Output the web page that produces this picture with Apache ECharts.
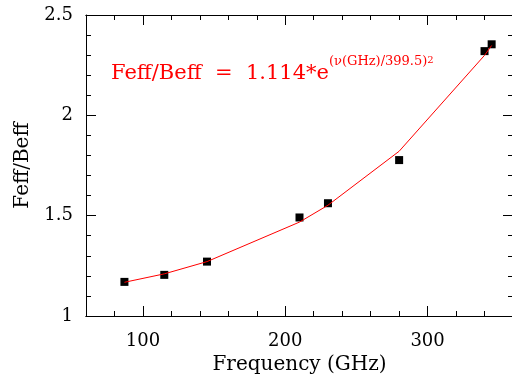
<!DOCTYPE html>
<html>
<head>
<meta charset="utf-8">
<script src="https://cdn.jsdelivr.net/npm/echarts@6/dist/echarts.min.js"></script>
<style>
html,body{margin:0;padding:0;background:#fff;}
#c{width:512px;height:376px;}
</style>
</head>
<body>
<div id="c"></div>
<script>
// Data
const freqGHz = [87, 115, 145, 210, 230, 280, 340, 345];
const measured = [1.17, 1.205, 1.271, 1.491, 1.562, 1.777, 2.32, 2.354];
const fitLine = [1.168, 1.21, 1.271, 1.468, 1.552, 1.821, 2.299, 2.348];
const xTickLabels = [100, 200, 300];
const yTickLabels = [1, 1.5, 2, 2.5];

const FONT = 'DejaVu Serif';
const chart = echarts.init(document.getElementById('c'), null, {renderer: 'canvas'});

const xMin = 60, xMax = 360;
const lineStyle = {color: '#000', width: 1};

function majorX(pos, showLabel) {
  return {
    type: 'value', position: pos, min: xMin, max: xMax, splitNumber: 3,
    axisLine: {show: true, onZero: false, lineStyle},
    axisTick: {show: true, inside: true, length: 10, lineStyle},
    splitLine: {show: false},
    axisLabel: {
      show: showLabel, margin: 16, color: '#000', fontFamily: FONT, fontSize: 18,
      showMinLabel: false, showMaxLabel: false,
      formatter: v => xTickLabels.includes(v) ? String(v) : ''
    },
    name: showLabel ? 'Frequency (GHz)' : '',
    nameLocation: 'middle', nameGap: 32,
    nameTextStyle: {color: '#000', fontFamily: FONT, fontSize: 20}
  };
}
function minorX(pos) {
  return {
    type: 'value', position: pos, min: xMin, max: xMax, interval: 20,
    axisLine: {show: true, onZero: false, lineStyle},
    axisTick: {show: true, inside: true, length: 5, lineStyle},
    splitLine: {show: false},
    axisLabel: {show: false}
  };
}
function yAx(pos, showLabel) {
  return {
    type: 'value', position: pos, min: 1, max: 2.5, interval: 0.5,
    axisLine: {show: true, onZero: false, lineStyle},
    axisTick: {show: true, inside: true, length: 10, lineStyle},
    minorTick: {show: true, splitNumber: 5, length: 5, lineStyle},
    splitLine: {show: false},
    minorSplitLine: {show: false},
    axisLabel: {
      show: showLabel, margin: 13, color: '#000', fontFamily: FONT, fontSize: 18,
      formatter: v => yTickLabels.includes(v) ? String(v) : ''
    },
    name: showLabel ? 'Feff/Beff' : '',
    nameLocation: 'middle', nameGap: 53,
    nameTextStyle: {color: '#000', fontFamily: FONT, fontSize: 20}
  };
}

chart.setOption({
  animation: false,
  backgroundColor: '#fff',
  grid: {left: 86, top: 15, width: 427, height: 301, containLabel: false, outerBoundsMode: 'none'},
  xAxis: [majorX('bottom', true), minorX('bottom'), majorX('top', false), minorX('top')],
  yAxis: [yAx('left', true), yAx('right', false)],
  series: [
    {
      type: 'scatter', xAxisIndex: 0, yAxisIndex: 0,
      symbol: 'rect', symbolSize: 8,
      itemStyle: {color: '#000', opacity: 1},
      data: freqGHz.map((f, i) => [f, measured[i]]), z: 2
    },
    {
      type: 'line', xAxisIndex: 0, yAxisIndex: 0,
      showSymbol: false, symbol: 'none',
      lineStyle: {color: '#ff0000', width: 1},
      data: freqGHz.map((f, i) => [f, fitLine[i]]), z: 3
    }
  ],
  graphic: [{
    type: 'text', left: 111, top: 55, z: 10,
    style: {
      text: '{m|Feff/Beff  =  1.114*e}{s|(ν(GHz)/399.5)}{t|2}',
      rich: {
        m: {fontFamily: FONT, fontSize: 21, lineHeight: 38, fill: '#ff0000'},
        s: {fontFamily: FONT, fontSize: 13, lineHeight: 15, verticalAlign: 'top', fill: '#ff0000'},
        t: {fontFamily: FONT, fontSize: 10, lineHeight: 9, verticalAlign: 'top', fill: '#ff0000'}
      }
    }
  }]
});
</script>
</body>
</html>
